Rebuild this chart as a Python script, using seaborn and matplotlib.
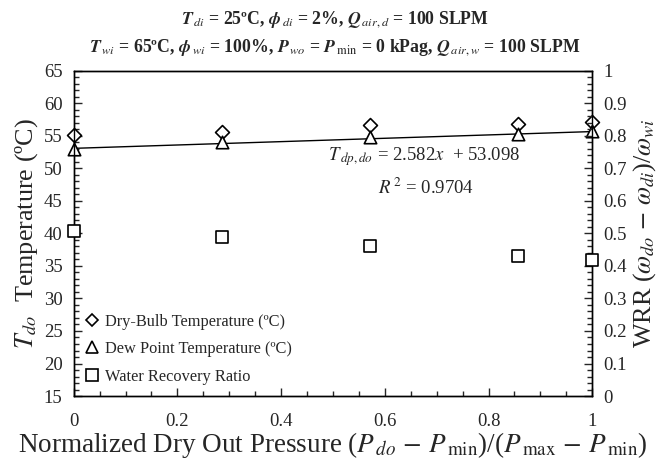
import numpy as np
import pandas as pd
import matplotlib
matplotlib.use("Agg")
import matplotlib.pyplot as plt
from matplotlib.ticker import MultipleLocator, FuncFormatter
from matplotlib.lines import Line2D
import seaborn as sns

# ---- data ----
x_norm = [0.0, 0.286, 0.571, 0.857, 1.0]
dry_bulb = [55.2, 55.6, 56.7, 56.9, 57.1]
dew_point = [53.0, 54.0, 54.9, 55.3, 55.8]
wrr = [0.508, 0.488, 0.462, 0.432, 0.418]
fit_slope = 2.582
fit_intercept = 53.098
fit_x = [0.0, 1.0]
legend_labels = ["Dry-Bulb Temperature (ºC)", "Dew Point Temperature (ºC)", "Water Recovery Ratio"]

sns.set_style("ticks")
plt.rcParams['font.family'] = ['Liberation Serif', 'DejaVu Serif']
plt.rcParams['mathtext.fontset'] = 'stix'

fig = plt.figure(figsize=(6.7, 4.63), dpi=100)
ax = fig.add_axes([0.110, 0.1447, 0.774, 0.702])
ax2 = ax.twinx()

df = pd.DataFrame({"x": x_norm, "db": dry_bulb, "dp": dew_point, "wrr": wrr})
fit_df = pd.DataFrame({"x": fit_x, "y": [fit_intercept + fit_slope * v for v in fit_x]})

sns.lineplot(data=fit_df, x="x", y="y", ax=ax, color="black", lw=1.0, zorder=2)
sns.scatterplot(data=df, x="x", y="db", ax=ax, marker="D", s=50, facecolor="white",
                edgecolor="black", linewidth=1.2, zorder=3, clip_on=False)
sns.scatterplot(data=df, x="x", y="dp", ax=ax, marker="^", s=80, facecolor="white",
                edgecolor="black", linewidth=1.2, zorder=3, clip_on=False)
sns.scatterplot(data=df, x="x", y="wrr", ax=ax2, marker="s", s=80, facecolor="white",
                edgecolor="black", linewidth=1.2, zorder=3, clip_on=False)

ax.set_xlim(0, 1)
ax.set_ylim(15, 65)
ax2.set_ylim(0, 1)
ax.xaxis.set_major_locator(MultipleLocator(0.2))
ax.xaxis.set_minor_locator(MultipleLocator(0.05))
ax.yaxis.set_major_locator(MultipleLocator(5))
ax.yaxis.set_minor_locator(MultipleLocator(1))
ax2.yaxis.set_major_locator(MultipleLocator(0.1))
ax2.yaxis.set_minor_locator(MultipleLocator(0.02))

fmt = FuncFormatter(lambda v, p: f"{v:g}")
ax.xaxis.set_major_formatter(fmt)
ax2.yaxis.set_major_formatter(fmt)

for a in (ax, ax2):
    a.tick_params(which="both", direction="in", labelsize=13.5, width=1.0)
    a.tick_params(which="major", length=6)
    a.tick_params(which="minor", length=3.5)
    for sp in a.spines.values():
        sp.set_linewidth(1.0)
        sp.set_color("black")
ax.tick_params(axis="x", pad=12)
ax.tick_params(axis="y", pad=8)
ax2.tick_params(axis="y", pad=8)

ax.set_xlabel(r"Normalized Dry Out Pressure ($P_{\,do}$ $-$ $P_{\,\mathrm{min}}$)/($P_{\,\mathrm{max}}$ $-$ $P_{\,\mathrm{min}}$)",
              fontsize=19.5, labelpad=0)
ax.set_ylabel(r"$T_{do}$  Temperature (ºC)", fontsize=18.8, labelpad=3)
ax2.set_ylabel(r"WRR ($\omega_{do}$ $-$ $\omega_{di}$)/$\omega_{wi}$", fontsize=18.8, labelpad=3)

ax.text(0.49, 51.8, r"$T_{\,dp,do}$ = 2.582$x$  + 53.098", fontsize=13.5, va="center")
ax.text(0.587, 47.0, r"$R^{\,2}$ = 0.9704", fontsize=13.5, va="center")

handles = [
    Line2D([], [], marker="D", ls="none", markersize=6, mfc="white", mec="black", mew=1.2),
    Line2D([], [], marker="^", ls="none", markersize=8, mfc="white", mec="black", mew=1.2),
    Line2D([], [], marker="s", ls="none", markersize=8, mfc="white", mec="black", mew=1.2),
]
ax.legend(handles, legend_labels, loc="lower left", frameon=False, fontsize=11.8,
          handletextpad=0.3, handlelength=1.0, borderaxespad=0.0, borderpad=0.3,
          labelspacing=0.7, bbox_to_anchor=(0.01, 0.02))

fig.text(0.5, 0.957, r"$\mathbfit{T}_{\,di}$ = 25ºC, $\mathbfit{\phi}_{\,di}$ = 2%, $\mathbfit{Q}_{\,air,d}$ = 100 SLPM",
         ha="center", va="center", fontsize=12.8, fontweight="bold")
fig.text(0.5, 0.897, r"$\mathbfit{T}_{\,wi}$ = 65ºC, $\mathbfit{\phi}_{\,wi}$ = 100%, $\mathbfit{P}_{\,wo}$ = $\mathbfit{P}_{\,\mathrm{min}}$ = 0 kPag, $\mathbfit{Q}_{\,air,w}$ = 100 SLPM",
         ha="center", va="center", fontsize=12.8, fontweight="bold")

fig.savefig("out.png", dpi=100)
